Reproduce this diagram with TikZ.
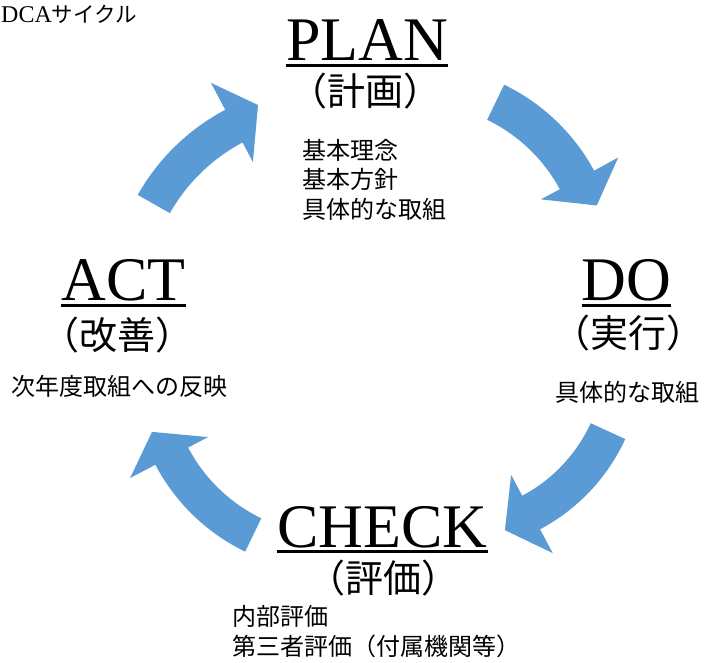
\documentclass[tikz,border=0pt]{standalone}
\usepackage{fontspec}
\setmainfont{Liberation Serif}
\newfontfamily\jpfont{Noto Sans CJK JP}
\usetikzlibrary{calc}
\definecolor{arrowblue}{HTML}{5B9BD5}
\begin{document}
\begin{tikzpicture}[x=1pt,y=1pt,
  big/.style={inner sep=0pt, anchor=base, font=\fontsize{62}{62}\selectfont},
  paren/.style={inner sep=0pt, anchor=base, font=\jpfont\fontsize{38}{38}\selectfont},
  item/.style={inner sep=0pt, anchor=base west, font=\jpfont\fontsize{24}{24}\selectfont},
  uline/.style={line width=3pt},
  cyc/.style={fill=arrowblue}]
\useasboundingbox (0,0) rectangle (704,-662);
\clip (0,0) rectangle (704,-662);

% title
\node[anchor=base west, inner sep=0pt] (title) at (1,-22)
  {{\fontsize{24}{24}\selectfont DCA}{\jpfont\fontsize{21.5}{21.5}\selectfont サイクル}};

% arrow centres
\coordinate (c1) at (416,-267);
\coordinate (c2) at (449,-358);
\coordinate (c3) at (332,-372);
\coordinate (c4) at (327,-302);

% PLAN -> DO
\fill[cyc] ($(c1)+(64.2:202.5pt)$) arc[start angle=64.2, end angle=28.4, radius=202.5pt]
  -- ($(c1)+(28.45:230pt)$) -- ($(c1)+(18.8:191pt)$) -- ($(c1)+(28.45:142pt)$)
  -- ($(c1)+(28.4:163.5pt)$) arc[start angle=28.4, end angle=64.2, radius=163.5pt] -- cycle;
% DO -> CHECK
\fill[cyc] ($(c2)+(-24.7:194pt)$) arc[start angle=-24.7, end angle=-62.0, radius=194pt]
  -- ($(c2)+(-62.0:221pt)$) -- ($(c2)+(-72.0:181pt)$) -- ($(c2)+(-62.0:132.4pt)$)
  -- ($(c2)+(-62.0:156pt)$) arc[start angle=-62.0, end angle=-24.7, radius=156pt] -- cycle;
% CHECK -> ACT
\fill[cyc] ($(c3)+(-115.8:199.5pt)$) arc[start angle=-115.8, end angle=-152.3, radius=199.5pt]
  -- ($(c3)+(-152.3:228pt)$) -- ($(c3)+(-161.6:189.7pt)$) -- ($(c3)+(-152.3:140pt)$)
  -- ($(c3)+(-152.3:162.5pt)$) arc[start angle=-152.3, end angle=-115.8, radius=162.5pt] -- cycle;
% ACT -> PLAN
\fill[cyc] ($(c4)+(150.5:217.5pt)$) arc[start angle=150.5, end angle=117.9, radius=217.5pt]
  -- ($(c4)+(117.9:248pt)$) -- ($(c4)+(109.3:208.7pt)$) -- ($(c4)+(117.9:158.4pt)$)
  -- ($(c4)+(117.9:180.5pt)$) arc[start angle=117.9, end angle=150.5, radius=180.5pt] -- cycle;

% PLAN
\node[big] (plan) at (367,-60) {PLAN};
\draw[uline] ([yshift=-5.5pt]plan.base west) -- ([yshift=-5.5pt]plan.base east);
\node[paren] (planj) at (365,-105) {（計画）};
\node[item] (plan1) at (302,-159) {基本理念};
\node[item] (plan2) at (302,-188.5) {基本方針};
\node[item] (plan3) at (302,-218) {具体的な取組};

% DO
\node[big] (do) at (626.5,-300) {DO};
\draw[uline] ([yshift=-5pt]do.base west) -- ([yshift=-5pt]do.base east);
\node[paren] (doj) at (628.5,-347) {（実行）};
\node[item] (do1) at (555,-401) {具体的な取組};

% CHECK
\node[big] (check) at (382.5,-547) {CHECK};
\draw[uline] ([yshift=-4.5pt]check.base west) -- ([yshift=-4.5pt]check.base east);
\node[paren] (checkj) at (383,-592) {（評価）};
\node[item] (check1) at (232,-625) {内部評価};
\node[item] (check2) at (232,-655) {第三者評価（付属機関等）};

% ACT
\node[big] (act) at (123.5,-300) {ACT};
\draw[uline] ([yshift=-5pt]act.base west) -- ([yshift=-5pt]act.base east);
\node[paren] (actj) at (117.5,-349) {（改善）};
\node[item] (act1) at (11,-395) {次年度取組への反映};
\end{tikzpicture}
\end{document}
